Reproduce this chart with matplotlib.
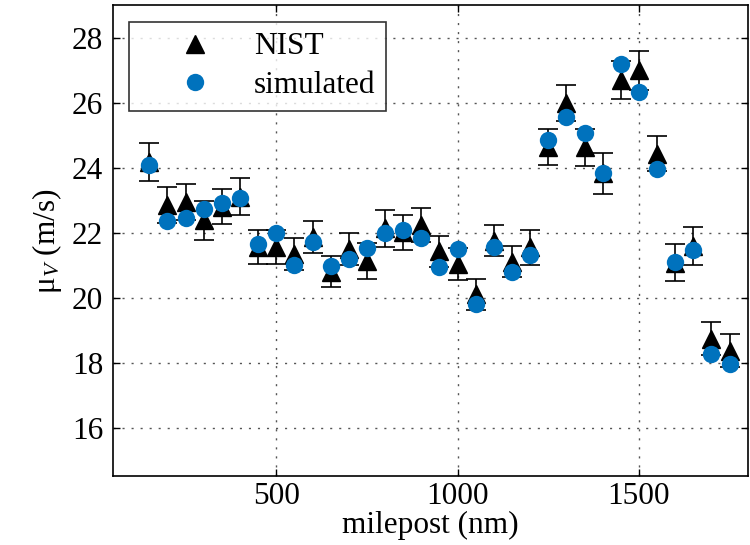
import matplotlib
matplotlib.use("Agg")
import matplotlib.pyplot as plt
from matplotlib.lines import Line2D

milepost = [150, 200, 250, 300, 350, 400, 450, 500, 550, 600, 650, 700, 750, 800,
            850, 900, 950, 1000, 1050, 1100, 1150, 1200, 1250, 1300, 1350, 1400,
            1450, 1500, 1550, 1600, 1650, 1700, 1750]
nist = [24.18, 22.84, 22.95, 22.38, 22.80, 23.11, 21.56, 21.55, 21.35, 21.86, 20.80,
        21.49, 21.13, 22.14, 22.01, 22.24, 21.42, 21.04, 20.10, 21.75, 21.10, 21.55,
        24.64, 25.98, 24.62, 23.83, 26.69, 27.00, 24.43, 21.08, 21.59, 18.74, 18.37]
nist_err = [0.58, 0.55, 0.56, 0.60, 0.53, 0.58, 0.52, 0.53, 0.50, 0.49, 0.48, 0.50,
            0.55, 0.57, 0.53, 0.52, 0.49, 0.49, 0.47, 0.48, 0.48, 0.54, 0.56, 0.55,
            0.58, 0.63, 0.58, 0.60, 0.55, 0.56, 0.59, 0.50, 0.50]
simulated = [24.08, 22.36, 22.44, 22.73, 22.90, 23.07, 21.66, 21.98, 21.00, 21.70,
             20.96, 21.19, 21.54, 22.00, 22.08, 21.85, 20.95, 21.49, 19.79, 21.57,
             20.78, 21.31, 24.84, 25.55, 25.07, 23.82, 27.20, 26.31, 23.95, 21.11,
             21.48, 18.26, 17.95]
xticks = [500, 1000, 1500]
yticks = [16, 18, 20, 22, 24, 26, 28]

plt.rcParams['font.family'] = ['Liberation Serif', 'DejaVu Serif']
plt.rcParams['mathtext.fontset'] = 'custom'
plt.rcParams['mathtext.rm'] = 'Liberation Serif'
plt.rcParams['mathtext.it'] = 'Liberation Serif:italic'

blue = '#0072BD'
fig = plt.figure(figsize=(7.5, 5.45), dpi=100)
ax = fig.add_axes([0.1507, 0.1257, 0.8463, 0.8651])

ax.errorbar(milepost, nist, yerr=nist_err, fmt='^', color='black', ecolor='black',
            markersize=13, capsize=7, elinewidth=1.2, capthick=1.2, zorder=3)
ax.plot(milepost, simulated, 'o', color=blue, markersize=12.5, zorder=4,
        markeredgewidth=0)

ax.set_xlim(50, 1800)
ax.set_ylim(14.5, 29)
ax.set_xticks(xticks)
ax.set_xticklabels([str(v) for v in xticks])
ax.set_yticks(yticks)
ax.set_yticklabels([str(v) for v in yticks])
ax.tick_params(direction='in', length=5, width=1, labelsize=22.5, top=True, right=True)
ax.tick_params(axis='x', pad=4)
ax.tick_params(axis='y', pad=7)
for s in ax.spines.values():
    s.set_linewidth(1.2)
ax.grid(True, linestyle=(0, (1.5, 5)), color='#555555', linewidth=1)
ax.set_axisbelow(True)

ax.set_xlabel('milepost (nm)', fontsize=22.5, labelpad=0)
ax.set_ylabel('μ$_{V}$ (m/s)', fontsize=22.5, labelpad=6)

handles = [Line2D([], [], marker='^', ls='none', color='black', markersize=13),
           Line2D([], [], marker='o', ls='none', color=blue, markersize=12.5,
                  markeredgewidth=0)]
leg = ax.legend(handles, ['NIST', 'simulated'], loc='upper left',
                bbox_to_anchor=(0.025, 0.965), borderaxespad=0,
                fontsize=22.5, frameon=True, fancybox=False, edgecolor='black',
                handlelength=3.5, handletextpad=0.15, labelspacing=0.3, borderpad=0.35,
                numpoints=1)
leg.get_frame().set_linewidth(1.2)
fig.savefig('out.png', dpi=100)
